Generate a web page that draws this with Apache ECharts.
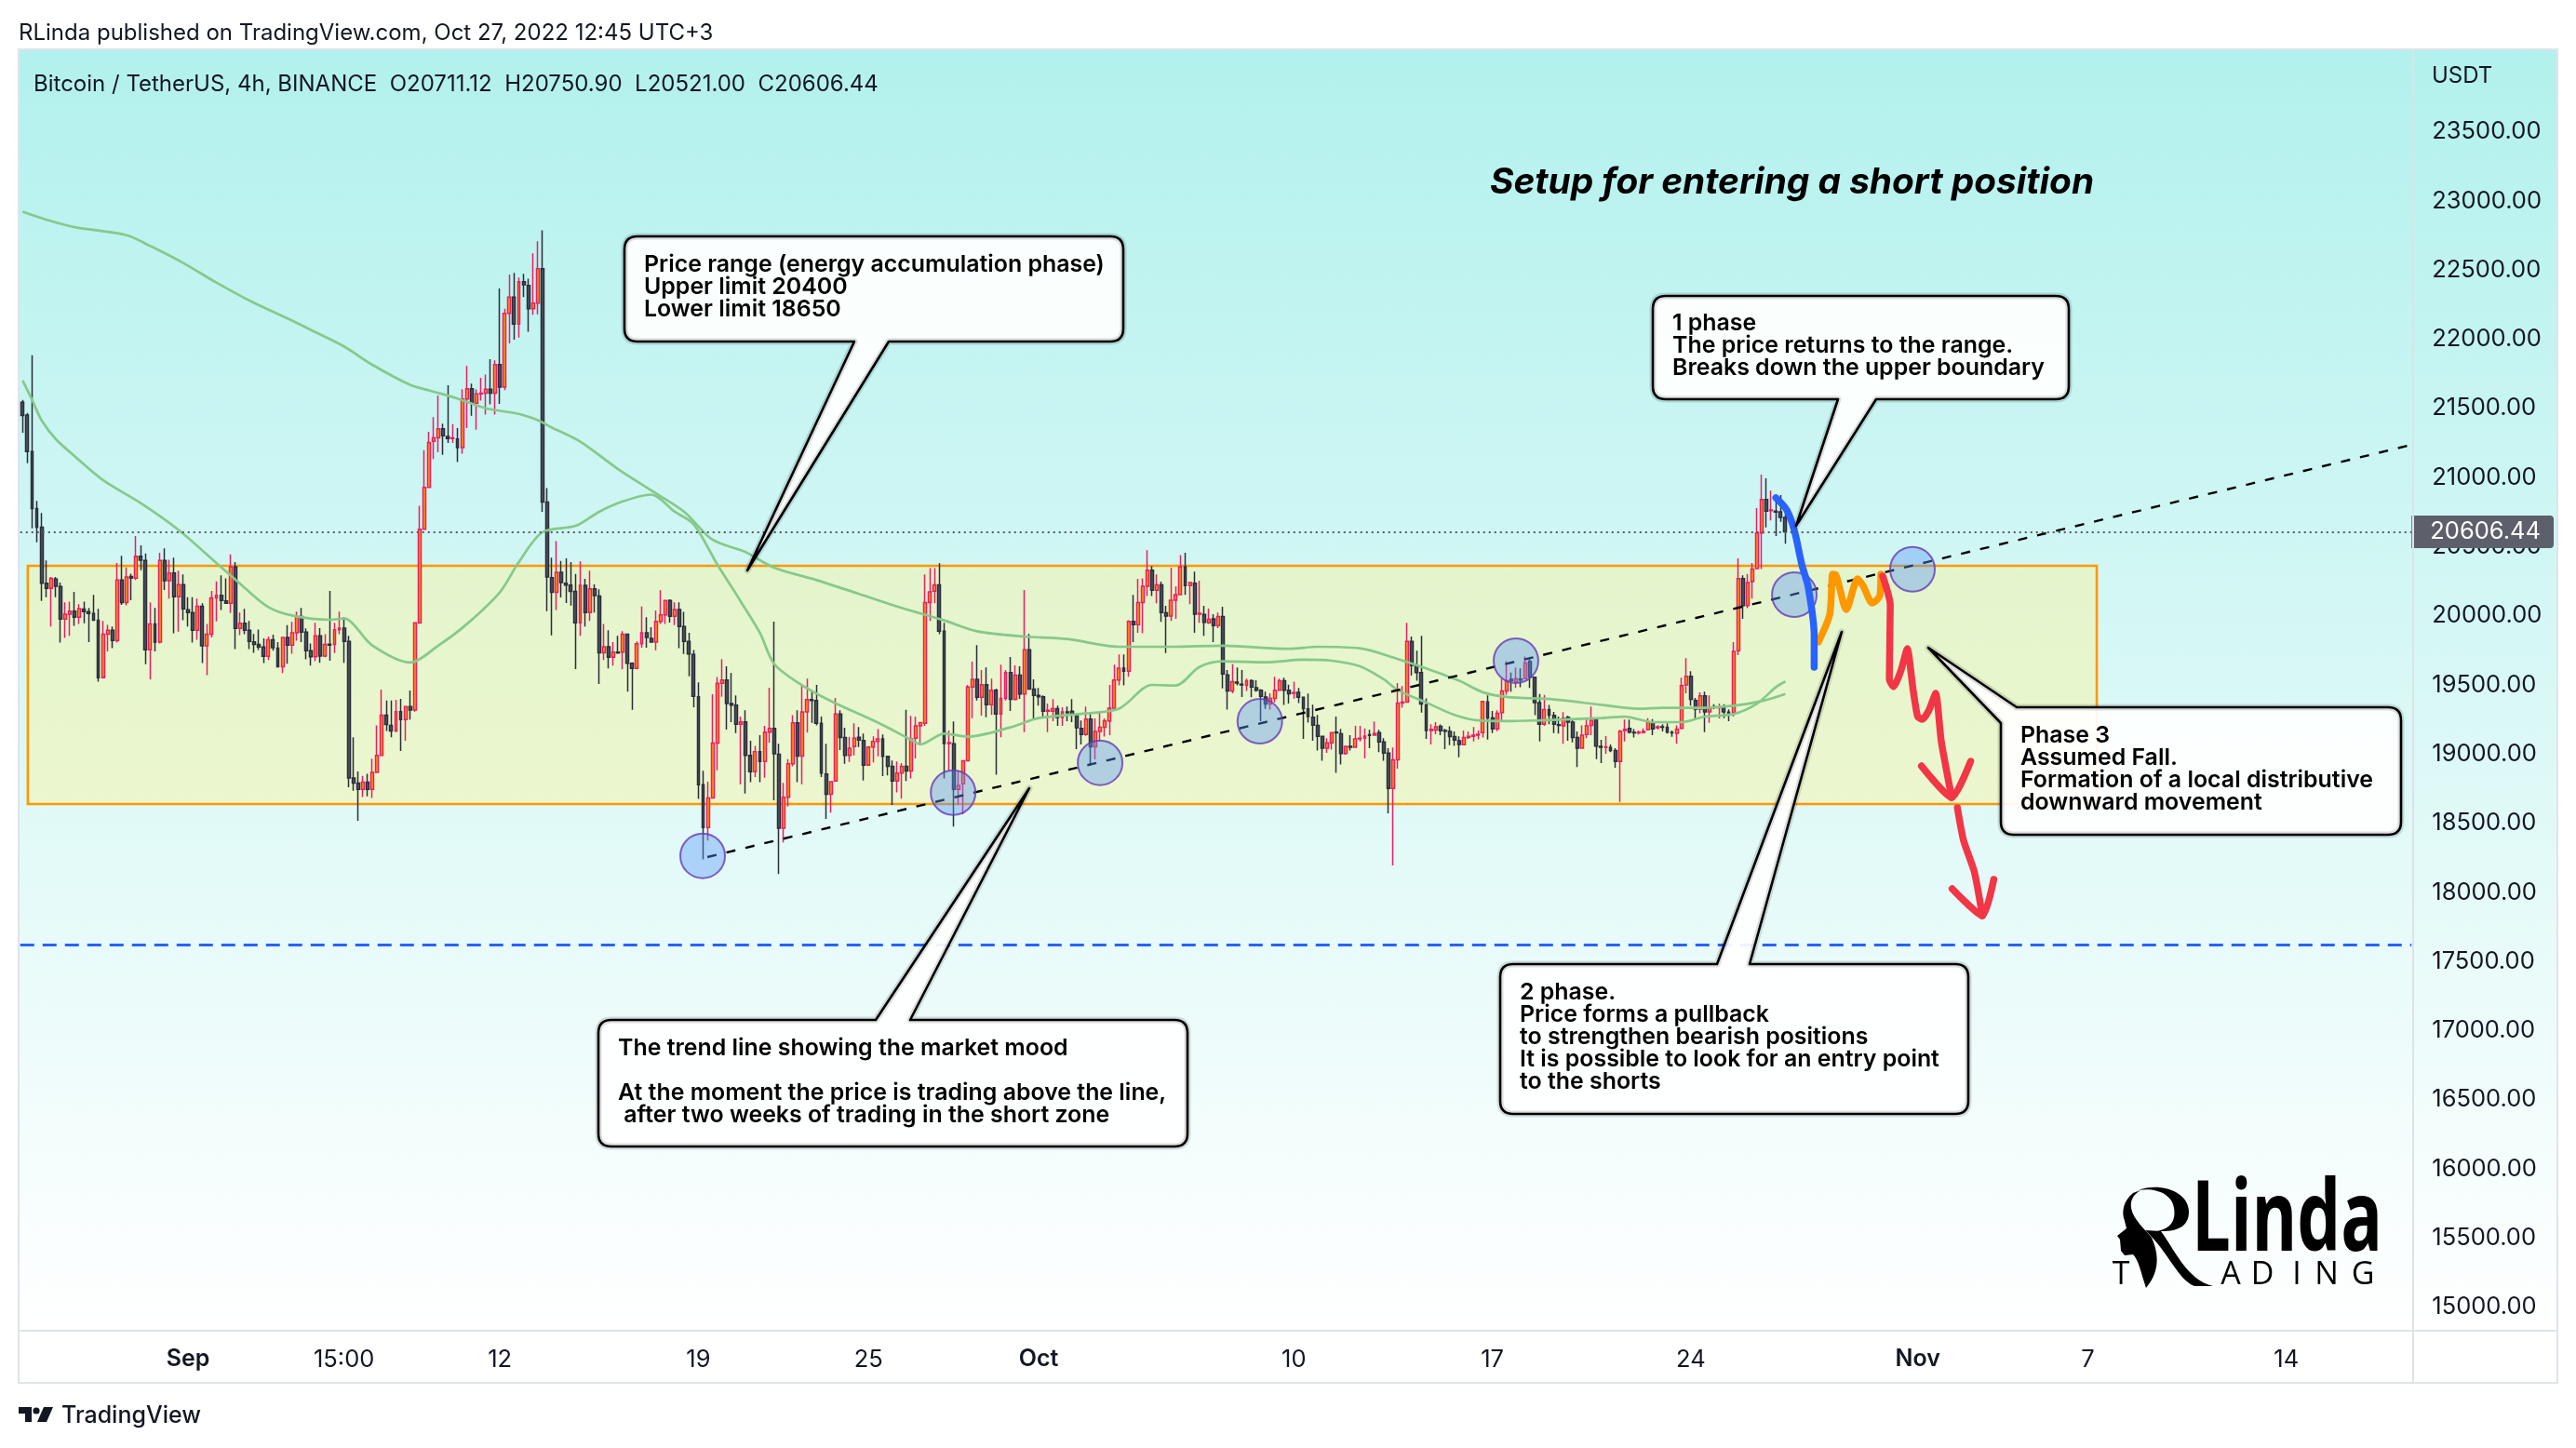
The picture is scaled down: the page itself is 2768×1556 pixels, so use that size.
<!DOCTYPE html>
<html>
<head>
<meta charset="utf-8">
<title>BTCUSDT 4h</title>
<script src="https://cdn.jsdelivr.net/npm/echarts@6/dist/echarts.min.js"></script>
<style>
html, body { margin: 0; padding: 0; background: #fff; }
#chart { width: 2768px; height: 1556px; }
</style>
</head>
<body>
<div id="chart"></div>
<script>
// candles, one row per 4h bar: open, close, low, high
var candles = [
[21544,21448,21324,21560],[21452,21187,21104,21466],[21187,20775,20633,21883],[20775,20640,20532,20831],[20640,20236,20108,20743],
[20236,20198,20135,20400],[20198,20270,19922,20281],[20265,20214,20135,20281],[20212,19976,19806,20241],[19976,20012,19839,20097],
[20012,20034,19855,20102],[20034,19990,19927,20173],[19990,20052,19940,20084],[20048,20030,19945,20102],[20030,20017,19810,20057],
[20017,19967,19965,20151],[19967,19552,19523,20050],[19552,19866,19552,19963],[19866,19895,19743,19934],[19895,19821,19765,19922],
[19821,20259,19806,20382],[20259,20095,20079,20434],[20095,20281,20075,20349],[20284,20272,20113,20304],[20272,20431,20259,20577],
[20431,20402,20330,20510],[20400,19754,19649,20450],[19754,19940,19541,20097],[19940,19810,19743,20057],[19810,20400,19799,20456],
[20400,20254,20187,20487],[20254,20310,20124,20405],[20310,20138,19873,20420],[20138,20225,19886,20326],[20225,20050,19967,20299],
[20043,20023,19922,20135],[20023,19895,19806,20135],[19895,20068,19826,20124],[20068,19783,19658,20090],[19783,19866,19570,19940],
[19866,20129,19844,20180],[20129,20147,19960,20248],[20147,20111,20041,20292],[20108,20090,20090,20270],[20090,20353,20019,20443],
[20353,19909,19759,20389],[19909,19945,19860,20023],[19945,19895,19866,20050],[19895,19815,19759,19963],[19812,19792,19732,19868],
[19792,19774,19752,19900],[19774,19707,19658,19837],[19707,19826,19680,19850],[19826,19770,19747,19864],[19765,19631,19631,19810],
[19631,19844,19586,19844],[19844,19788,19653,19933],[19788,19877,19725,19956],[19877,19994,19819,20030],[19994,19882,19810,20057],
[19882,19747,19685,19909],[19747,19703,19640,19799],[19703,19855,19671,19949],[19855,19709,19660,19911],[19709,19792,19700,19866],
[19795,19788,19675,20180],[19792,19899,19731,19949],[19899,19910,19866,20030],[19910,19814,19660,19989],[19814,18827,18760,19855],
[18827,18790,18734,19121],[18790,18744,18518,18874],[18744,18796,18689,18843],[18796,18744,18695,18857],[18744,18867,18682,18966],
[18867,18991,18867,19207],[18991,19282,18985,19467],[19282,19214,19167,19387],[19208,19167,19121,19387],[19167,19306,19158,19393],
[19306,19250,19022,19399],[19250,19343,19096,19343],[19343,19319,19250,19460],[19319,19949,19306,19949],[19949,20626,19940,20796],
[20626,20929,20626,21197],[20929,21253,20929,21330],[21261,21286,21133,21436],[21286,21353,21182,21593],[21353,21301,21164,21389],
[21297,21281,21250,21667],[21281,21287,21250,21386],[21279,21216,21111,21357],[21216,21568,21173,21638],[21568,21642,21357,21806],
[21642,21537,21447,21678],[21537,21604,21346,21638],[21604,21610,21555,21721],[21610,21638,21454,21745],[21638,21610,21528,21855],
[21610,21817,21454,21846],[21817,21653,21532,22367],[21653,22187,21631,22221],[22187,22304,21970,22468],[22304,22109,21997,22479],
[22109,22416,22012,22445],[22416,22394,22304,22472],[22389,22221,22053,22438],[22221,22261,22176,22620],[22261,22510,22180,22708],
[22510,20823,20752,22788],[20823,20281,20034,20924],[20276,20169,19859,20420],[20169,20314,20041,20539],[20314,20240,20133,20397],
[20236,20222,20092,20415],[20222,20177,20074,20388],[20177,19949,19615,20303],[19949,20220,19855,20393],[20220,20023,19922,20267],
[20023,20195,19962,20326],[20195,20146,20023,20227],[20142,19733,19507,20191],[19733,19776,19680,19940],[19776,19700,19620,19895],
[19700,19737,19640,19810],[19738,19730,19730,19855],[19738,19866,19612,19888],[19866,19657,19451,19872],[19657,19619,19320,19664],
[19619,19798,19612,19814],[19798,19877,19769,20067],[19877,19843,19769,19989],[19836,19810,19805,19917],[19810,19960,19751,20038],
[19960,20007,19940,20184],[20007,20110,19940,20110],[20110,19996,19951,20119],[19996,20045,19933,20097],[20045,19922,19765,20097],
[19922,19814,19724,20029],[19814,19724,19563,19877],[19720,19417,19338,19753],[19415,18778,18675,19518],[18778,18468,18239,18879],
[18468,18683,18374,18800],[18683,19080,18683,19433],[19080,19511,18883,19558],[19511,19536,19415,19686],[19536,19365,19177,19635],
[19365,19354,19231,19585],[19354,19215,19152,19424],[19215,19233,18782,19271],[19233,18991,18715,19316],[18991,18872,18796,19096],
[18872,19018,18834,19060],[19018,18946,18796,19137],[18946,19159,18829,19204],[19159,19186,19083,19480],[19186,19002,18666,19958],
[18998,18464,18132,19074],[18464,18688,18361,18791],[18688,18930,18621,18964],[18930,19226,18912,19282],[19226,18986,18796,19316],
[18986,19305,18782,19500],[19305,19394,19155,19545],[19394,19388,19226,19462],[19388,19222,19208,19500],[19222,18863,18834,19271],
[18856,18710,18531,19074],[18710,18800,18576,18800],[18805,19289,18805,19406],[19289,19119,19029,19316],[19119,18991,18930,19190],
[18991,19042,18944,19125],[19054,19114,18991,19222],[19121,19101,19051,19195],[19098,18919,18809,19148],[18919,19051,18919,19058],
[19051,19092,18939,19128],[19092,19110,18984,19181],[19110,18984,18841,19141],[18984,18912,18845,18984],[18912,18805,18632,18953],
[18805,18863,18722,18946],[18863,18912,18677,18935],[18912,18878,18805,19320],[18878,19110,18823,19276],[19114,19204,18969,19272],
[19204,19227,19070,19227],[19222,20095,19204,20299],[20095,20173,19962,20344],[20178,20223,20090,20344],[20223,19888,19866,20380],
[19888,19076,18823,19949],[19076,19083,18879,19170],[19074,18744,18475,19236],[18744,18774,18632,18879],[18785,18951,18565,18957],
[18951,19485,18951,19500],[19485,19541,19260,19668],[19541,19411,19388,19787],[19411,19502,19278,19608],[19502,19357,19267,19626],
[19357,19462,19283,19545],[19462,19290,18850,19473],[19290,19402,19121,19646],[19402,19590,19388,19608],[19590,19395,19312,19702],
[19395,19570,19388,19642],[19570,19435,19399,19635],[19435,19754,19159,20187],[19754,19469,19469,19868],[19469,19424,19245,19541],
[19424,19415,19350,19478],[19415,19310,19260,19424],[19310,19316,19159,19366],[19310,19328,19238,19397],[19328,19265,19204,19350],
[19265,19305,19204,19339],[19305,19300,19238,19343],[19310,19283,19231,19397],[19280,19191,19036,19294],[19186,19141,19070,19242],
[19141,19253,19132,19343],[19253,19052,18917,19305],[19052,19164,18962,19258],[19164,19193,19092,19303],[19193,19240,19126,19258],
[19240,19332,19137,19500],[19332,19536,19316,19646],[19536,19621,19496,19720],[19621,19599,19496,19720],[19599,19960,19559,19967],
[19960,19935,19810,20151],[19935,20095,19877,20267],[20095,20214,19873,20270],[20214,20330,20142,20474],[20330,20184,20142,20359],
[20184,20223,20090,20299],[20223,20023,19956,20247],[20021,19998,19731,20072],[19998,20113,19962,20348],[20113,20153,19978,20214],
[20153,20353,20151,20438],[20353,20218,20151,20456],[20218,20240,20083,20247],[20236,20012,19877,20319],[20012,20018,19949,20254],
[20010,19953,19855,20072],[19949,19975,19940,20052],[19978,19929,19810,20012],[19929,19994,19911,20023],[19994,19579,19474,20066],
[19572,19456,19321,19608],[19456,19523,19440,19649],[19520,19514,19496,19626],[19505,19500,19413,19608],[19496,19530,19456,19545],
[19530,19485,19411,19541],[19480,19462,19451,19534],[19462,19418,19238,19469],[19413,19362,19326,19451],[19362,19402,19321,19440],
[19402,19462,19373,19559],[19462,19530,19462,19545],[19530,19462,19355,19552],[19462,19436,19366,19501],[19440,19445,19400,19523],
[19447,19411,19368,19478],[19411,19328,19110,19411],[19326,19272,19227,19438],[19267,19209,19097,19357],[19207,19128,19025,19283],
[19128,19043,18951,19128],[19043,19081,19009,19115],[19081,19155,19032,19155],[19158,19153,18864,19272],[19146,19003,18924,19182],
[19003,19056,18996,19056],[19056,19050,19025,19137],[19050,19110,19050,19204],[19110,19115,19092,19204],[19115,19130,18969,19186],
[19140,19135,19043,19175],[19137,19148,19133,19236],[19155,19088,19014,19175],[19088,19007,18951,19115],[19007,18751,18572,19043],
[18751,18958,18195,19047],[18958,19368,18895,19514],[19368,19375,19335,19492],[19375,19815,19375,19949],[19815,19642,19568,19850],
[19640,19590,19530,19747],[19590,19362,19299,19855],[19355,19171,19110,19402],[19171,19178,19070,19216],[19173,19198,19144,19231],
[19200,19169,19137,19214],[19171,19166,19036,19182],[19164,19126,19065,19200],[19126,19101,19059,19164],[19097,19070,18976,19128],
[19068,19119,19065,19171],[19119,19128,19110,19164],[19128,19137,19092,19196],[19137,19144,19106,19171],[19155,19380,19119,19384],
[19378,19261,19104,19424],[19261,19182,19151,19312],[19182,19294,19166,19317],[19299,19456,19245,19545],[19456,19530,19429,19671],
[19540,19532,19451,19590],[19522,19545,19478,19626],[19542,19536,19484,19619],[19545,19659,19540,19706],[19670,19558,19478,19697],
[19556,19372,19282,19556],[19372,19215,19092,19435],[19215,19321,19204,19428],[19321,19282,19215,19356],[19280,19215,19152,19305],
[19213,19208,19148,19271],[19204,19260,19074,19303],[19267,19231,19096,19276],[19231,19119,19085,19249],[19119,19042,18906,19163],
[19042,19137,19042,19208],[19141,19204,19114,19249],[19208,19244,19137,19343],[19249,19058,18964,19260],[19056,19050,18935,19103],
[19047,19052,19002,19130],[19047,19025,19013,19069],[19025,18946,18901,19042],[18946,19166,18654,19175],[19170,19178,19092,19249],
[19186,19159,19148,19249],[19157,19153,19119,19181],[19153,19157,19141,19170],[19157,19164,19148,19186],[19177,19231,19170,19260],
[19231,19182,19137,19253],[19190,19198,19177,19209],[19198,19193,19163,19215],[19193,19159,19148,19222],[19157,19153,19125,19170],
[19150,19181,19074,19208],[19186,19495,19181,19552],[19500,19563,19439,19693],[19563,19395,19350,19599],[19388,19325,19249,19406],
[19325,19421,19294,19446],[19421,19305,19159,19451],[19305,19338,19226,19424],[19342,19337,19325,19361],[19335,19340,19258,19365],
[19340,19305,19260,19361],[19303,19298,19238,19323],[19300,19742,19271,19810],[19747,20269,19715,20415],[20269,20074,19978,20292],
[20074,20240,20056,20303],[20247,20337,20124,20381],[20341,20599,20337,20778],[20599,20841,20337,21021],[20841,20756,20639,20994],
[20760,20765,20689,20904],[20756,20750,20577,20841],[20752,20711,20680,20873],[20711,20606.44,20521,20750.9]
];

// the two moving averages, read at bar positions
var slowMa = [[0,22922],[6,22854],[11,22810],[22,22752],[27,22674],[34,22551],[41,22409],[48,22279],[57,22134],[62,22050],[68,21948],[74,21815],[82,21670],[86,21630],[92,21571],[98,21500],[105,21460],[109,21414],[112,21361],[118,21259],[126,21061],[133,20907],[140,20752],[146,20550],[153,20460],[159,20348],[168,20258],[177,20158],[186,20057],[195,19967],[202,19888],[212,19850],[221,19832],[232,19776],[243,19776],[254,19783],[268,19761],[274,19776],[283,19765],[291,19687],[297,19619],[304,19530],[309,19447],[314,19413],[324,19395],[334,19356],[342,19327],[347,19334],[354,19334],[362,19350],[368,19383],[373,19435]];
var fastMa = [[0,21701],[2,21562],[4,21414],[7,21278],[11,21154],[17,20981],[25,20814],[33,20620],[41,20382],[47,20202],[52,20063],[57,20002],[65,19971],[68,19980],[74,19785],[82,19662],[88,19785],[94,19940],[101,20171],[105,20388],[110,20604],[117,20650],[122,20752],[127,20827],[133,20876],[138,20752],[142,20662],[147,20371],[152,20101],[156,19877],[159,19653],[164,19518],[171,19384],[181,19227],[188,19103],[190,19070],[195,19148],[200,19126],[209,19193],[215,19260],[225,19294],[232,19328],[239,19500],[244,19496],[249,19630],[254,19671],[263,19664],[271,19682],[277,19675],[283,19635],[288,19541],[291,19462],[297,19373],[303,19283],[308,19243],[314,19238],[321,19244],[334,19260],[339,19271],[345,19231],[351,19231],[356,19271],[362,19289],[367,19365],[371,19484],[373,19525]];

// drawings on the chart, in bar position and price
var trendLine = [[144.9,18255],[505.5,21236]];
var touchPoints = [[143.9,18264],[196.9,18721],[228,18937],[261.8,19237],[316,19675],[374.9,20153],[399.9,20336]];
var bluePath = [[371,20853],[373.3,20765],[374.9,20617],[376.5,20368],[377.8,20213],[379.1,19857],[379.1,19628]];
var orangePath = [[380,19810],[382.4,20011],[383,20301],[383.6,20299],[385.9,20045],[388.3,20267],[389.5,20213],[391.4,20092],[393,20146],[393.2,20301]];
var redPath = [[393.6,20287],[395.2,20079],[395,19540],[395.9,19487],[397.5,19608],[398.8,19762],[400,19473],[401,19271],[402,19251],[403.4,19318],[404.8,19439],[406,19090],[408.2,18686]];
var redHead = [[401.8,18914],[408.2,18686],[412.2,18948]];
var redPath2 = [[409.4,18612],[410.7,18376],[413,18147],[414.7,17831]];
var redHead2 = [[408.3,18026],[414.7,17831],[417.1,18094]];
var rangeBox = { x0: 1.1, x1: 438.9, top: 20361, bottom: 18639 };
var supportPrice = 17622;
var lastPrice = 20606.44;

var priceTicks = [15000,15500,16000,16500,17000,17500,18000,18500,19000,19500,20000,20500,21000,21500,22000,22500,23000,23500];
var barCount = 506;
var tickBars = [35,68,101,143,179,215,269,311,353,401,437,479];
var tickTexts = ['Sep','15:00','12','19','25','Oct','10','17','24','Nov','7','14'];
var monthTexts = ['Sep','Oct','Nov'];

var categories = [];
for (var i = 0; i < barCount; i++) {
    var at = tickBars.indexOf(i);
    categories.push(at >= 0 ? tickTexts[at] : '');
}

var FONT = 'Inter, "Noto Sans", sans-serif';
var calloutFont = '600 24.9px ' + FONT;

function drawn(name, data, color, width, smooth) {
    return {
        name: name, type: 'line', xAxisIndex: 1, data: data, symbol: 'none', smooth: smooth || false, z: 6,
        silent: true, lineStyle: { color: color, width: width, cap: 'round', join: 'round' }
    };
}

// speech bubbles
var calloutShapes = [
    'M685 254 H1193 Q1207 254 1207 268 V353 Q1207 367 1193 367 H955 L803 613 L918 367 H685 Q671 367 671 353 V268 Q671 254 685 254 Z',
    'M1790 318 H2209 Q2223 318 2223 332 V415 Q2223 429 2209 429 H2016 L1930 565 L1975 429 H1790 Q1776 429 1776 415 V332 Q1776 318 1790 318 Z',
    'M657 1096 H941 L1106 847 L978 1096 H1262 Q1276 1096 1276 1110 V1218 Q1276 1232 1262 1232 H657 Q643 1232 643 1218 V1110 Q643 1096 657 1096 Z',
    'M1626 1036 H1845 L1979 679 L1880 1036 H2101 Q2115 1036 2115 1050 V1183 Q2115 1197 2101 1197 H1626 Q1612 1197 1612 1183 V1050 Q1612 1036 1626 1036 Z',
    'M2167 760 H2566 Q2580 760 2580 774 V883 Q2580 897 2566 897 H2164 Q2150 897 2150 883 V777 L2072 696 Z'
];
var calloutTexts = [
    { x: 692, y: 273, text: 'Price range (energy accumulation phase)\nUpper limit 20400\nLower limit 18650' },
    { x: 1797, y: 336, text: '1 phase\nThe price returns to the range.\nBreaks down the upper boundary' },
    { x: 664, y: 1115, text: 'The trend line showing the market mood\n\nAt the moment the price is trading above the line,\n after two weeks of trading in the short zone' },
    { x: 1633, y: 1055, text: '2 phase.\nPrice forms a pullback\nto strengthen bearish positions\nIt is possible to look for an entry point\nto the shorts' },
    { x: 2171, y: 779, text: 'Phase 3\nAssumed Fall.\nFormation of a local distributive\ndownward movement' }
];
var logoShapes = [
    'M2292 1282 C2282 1290 2279 1302 2283 1312 L2285 1320 L2275 1328 L2278 1332 L2279 1344 L2283 1349 L2292 1348 C2298 1354 2300 1366 2306 1384 C2318 1370 2322 1352 2312 1330 C2304 1320 2292 1310 2290 1298 C2289 1290 2292 1284 2300 1279 Z',
    'M2298 1279 C2320 1270 2352 1280 2352 1302 C2352 1318 2340 1324 2318 1323 C2334 1320 2338 1310 2336 1298 C2334 1284 2318 1276 2298 1279 Z',
    'M2305 1322 L2322 1323 C2335 1340 2350 1376 2378 1382 L2358 1382 C2340 1375 2330 1345 2305 1322 Z',
    'M20 1512 H34 V1528 H27 V1519 H20 Z M47 1512 H57 L50 1528 H40 Z'
];
var logoLetters = ['T', 'A', 'D', 'I', 'N', 'G'];
var logoLetterX = [2279, 2397, 2431, 2468, 2500, 2539];

var graphics = [
    // chart background runs under the price scale too
    { type: 'rect', z: -10, silent: true, shape: { x: 20, y: 53, width: 2728, height: 1377 },
      style: { fill: new echarts.graphic.LinearGradient(0, 0, 0, 1, [{ offset: 0, color: '#b2f1ed' }, { offset: 1, color: '#ffffff' }]) } },
    { type: 'rect', z: 9, silent: true, shape: { x: 20, y: 53, width: 2728, height: 1433 }, style: { fill: 'none', stroke: '#e0e3eb', lineWidth: 2 } },
    { type: 'line', z: 9, silent: true, shape: { x1: 20, y1: 1430, x2: 2748, y2: 1430 }, style: { stroke: '#e0e3eb', lineWidth: 2 } },
    { type: 'line', z: 9, silent: true, shape: { x1: 2593, y1: 53, x2: 2593, y2: 1486 }, style: { stroke: '#dde2e6', lineWidth: 2 } },
    { type: 'text', z: 9, silent: true, style: { x: 20, y: 36, text: 'RLinda published on TradingView.com, Oct 27, 2022 12:45 UTC+3', font: '400 24px ' + FONT, fill: '#131722', textVerticalAlign: 'middle' } },
    { type: 'text', z: 9, silent: true, style: { x: 36, y: 91, text: 'Bitcoin / TetherUS, 4h, BINANCE  O20711.12  H20750.90  L20521.00  C20606.44', font: '400 24px ' + FONT, fill: '#131722', textVerticalAlign: 'middle' } },
    { type: 'text', z: 9, silent: true, style: { x: 2613, y: 82, text: 'USDT', font: '400 24px ' + FONT, fill: '#131722', textVerticalAlign: 'middle' } },
    { type: 'text', z: 9, silent: true, style: { x: 1601, y: 196, text: 'Setup for entering a short position', font: 'italic 700 38.8px ' + FONT, fill: '#000', textVerticalAlign: 'middle' } },
    { type: 'circle', z: 9, silent: true, shape: { cx: 39, cy: 1516, r: 3.6 }, style: { fill: '#131722' } },
    { type: 'text', z: 9, silent: true, style: { x: 66, y: 1521, text: 'TradingView', font: '500 25px ' + FONT, fill: '#131722', textVerticalAlign: 'middle' } },
    { type: 'text', z: 9, silent: true, x: 2355, y: 1367, scaleX: 0.7, style: { x: 0, y: 0, text: 'Linda', font: '700 106px "Open Sans", sans-serif', fill: '#000', textVerticalAlign: 'bottom' } }
];
logoLetters.forEach(function (ch, k) {
    graphics.push({ type: 'text', z: 9, silent: true, style: { x: logoLetterX[k], y: 1370, text: ch, font: '400 34px "Open Sans", sans-serif', fill: '#000', textAlign: 'center', textVerticalAlign: 'middle' } });
});
calloutTexts.forEach(function (t) {
    graphics.push({ type: 'text', z: 12, silent: true, style: { x: t.x, y: t.y, text: t.text, font: calloutFont, fill: '#000', lineHeight: 24 } });
});

// the graphic component has no svg path type, a custom series does
function renderShapes(params, api) {
    var children = [];
    logoShapes.forEach(function (d) {
        children.push({ type: 'path', shape: { pathData: d }, style: { fill: d.indexOf('M20 ') === 0 ? '#131722' : '#000' } });
    });
    calloutShapes.forEach(function (d) {
        children.push({ type: 'path', shape: { pathData: d }, style: { fill: 'rgba(255,255,255,0.92)', stroke: 'rgba(0,0,0,0.13)', lineWidth: 7, lineJoin: 'round' } });
        children.push({ type: 'path', shape: { pathData: d }, style: { fill: 'none', stroke: '#000', lineWidth: 2.6, lineJoin: 'round' } });
    });
    return { type: 'group', children: children };
}

var chart = echarts.init(document.getElementById('chart'));
var option = {
    animation: false,
    backgroundColor: '#fff',
    grid: { left: 21.76, top: 53, width: 2569.5, height: 1377 },
    graphic: { elements: graphics },
    xAxis: [
        {
            type: 'category', data: categories, boundaryGap: true,
            axisLine: { show: false }, axisTick: { show: false }, splitLine: { show: false },
            axisLabel: {
                margin: 18, fontFamily: 'Inter', fontSize: 25.5, color: '#131722', hideOverlap: false,
                interval: function (index) { return tickBars.indexOf(index) >= 0; },
                formatter: function (value) { return monthTexts.indexOf(value) >= 0 ? '{m|' + value + '}' : value; },
                rich: { m: { fontFamily: 'Inter', fontSize: 25, fontWeight: 600, color: '#131722' } }
            }
        },
        { type: 'value', show: false, min: -0.5, max: barCount - 0.5, splitLine: { show: false } }
    ],
    yAxis: {
        type: 'value', position: 'right', min: 14830, max: 24096, scale: true,
        axisLine: { show: false }, axisTick: { show: false }, splitLine: { show: false },
        axisLabel: {
            customValues: priceTicks, margin: 22, fontFamily: 'Inter', fontSize: 25.5, color: '#131722', padding: [3, 0, 0, 0],
            formatter: function (value) { return value.toFixed(2); }
        }
    },
    series: [
        {
            name: 'BTCUSDT', type: 'candlestick', data: candles, barWidth: 3.4, z: 2, silent: true,
            itemStyle: { color: '#ff9800', color0: '#4e5260', borderColor: '#e91e63', borderColor0: '#2a2e39', borderWidth: 1.5 },
            markLine: {
                silent: true, symbol: 'none', animation: false, z: 7,
                data: [
                    { yAxis: lastPrice, lineStyle: { color: '#555762', type: [2, 4], width: 2 },
                      label: { show: true, position: 'end', distance: 0, formatter: lastPrice.toFixed(2), color: '#fff', backgroundColor: '#5d606b', fontFamily: 'Inter', fontSize: 25.5, padding: [5, 14, 4, 20], borderRadius: [0, 4, 4, 0] } },
                    { yAxis: supportPrice, lineStyle: { color: '#2962ff', type: [15, 9], width: 3 }, label: { show: false } }
                ]
            }
        },
        { name: 'MA slow', type: 'line', data: slowMa, symbol: 'none', smooth: 0.3, z: 3, silent: true, lineStyle: { color: '#86c98a', width: 2.7 } },
        { name: 'MA fast', type: 'line', data: fastMa, symbol: 'none', smooth: 0.3, z: 3, silent: true, lineStyle: { color: '#86c98a', width: 2.7 } },
        {
            name: 'trend', type: 'line', xAxisIndex: 1, data: trendLine, symbol: 'none', z: 4, silent: true,
            lineStyle: { color: '#000', width: 2.4, type: [10, 11] },
            markArea: {
                silent: true, animation: false, z: 1,
                itemStyle: { color: 'rgba(255,243,145,0.4)', borderColor: '#ff9800', borderWidth: 2.6 },
                data: [[{ xAxis: rangeBox.x0, yAxis: rangeBox.top }, { xAxis: rangeBox.x1, yAxis: rangeBox.bottom }]]
            }
        },
        {
            name: 'touches', type: 'scatter', xAxisIndex: 1, data: touchPoints, symbol: 'circle', symbolSize: 48, z: 5, silent: true,
            itemStyle: { color: 'rgba(90,150,250,0.5)', borderColor: '#673ab7', borderWidth: 2 }
        },
        drawn('orange', orangePath, '#ff9800', 7.5, 0.25),
        drawn('blue', bluePath, '#2962ff', 7.5, 0.3),
        drawn('red', redPath, '#f23645', 7.5, 0.2),
        drawn('red head', redHead, '#f23645', 7.5, 0.2),
        drawn('red 2', redPath2, '#f23645', 7.5, 0.2),
        drawn('red head 2', redHead2, '#f23645', 7.5, 0.2),
        { name: 'notes', type: 'custom', coordinateSystem: 'none', data: [0], renderItem: renderShapes, z: 10, silent: true, clip: false }
    ]
};
chart.setOption(option);
</script>
</body>
</html>
